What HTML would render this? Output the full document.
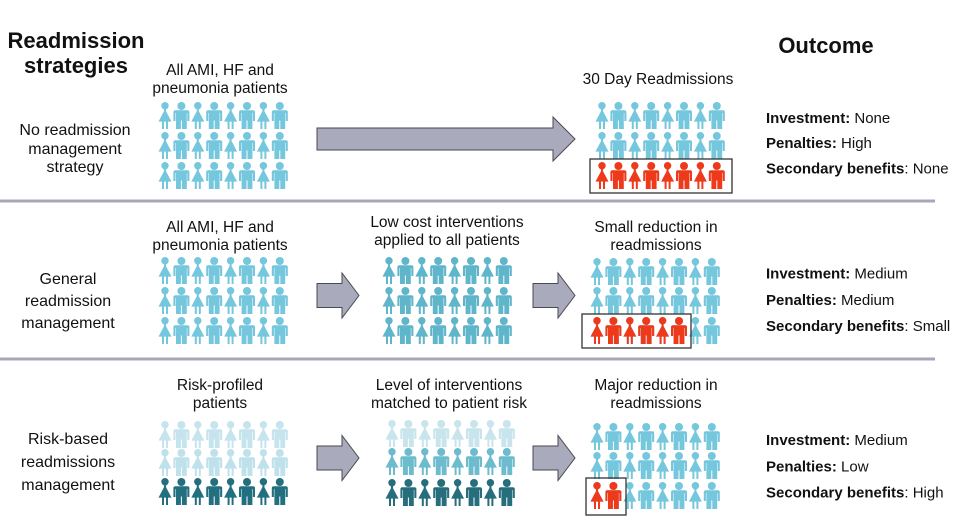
<!DOCTYPE html>
<html><head><meta charset="utf-8"><style>
html,body{margin:0;padding:0;background:#fff;}
svg{display:block;}
text{font-family:"Liberation Sans",Arial,sans-serif;fill:#111;}
</style></head><body>
<svg width="960" height="523" viewBox="0 0 960 523" xmlns="http://www.w3.org/2000/svg">
<defs>
<g id="f"><circle cx="0" cy="3.7" r="3.7"/><rect x="-1" y="6" width="2" height="3"/><polygon points="0,7.3 -6.5,19.6 6.5,19.6"/><rect x="-3" y="19" width="2" height="8"/><rect x="1" y="19" width="2" height="8"/></g>
<g id="m"><circle cx="0" cy="4" r="4"/><path d="M-8,10 Q-8,8.2 -6,8.2 L6,8.2 Q8,8.2 8,10 L8,19 L5.9,19 L5.9,11 L5.4,11 L5.4,27 L0.5,27 L0.5,18.5 L-0.5,18.5 L-0.5,27 L-5.4,27 L-5.4,11 L-5.9,11 L-5.9,19 L-8,19 Z"/></g>
<g id="row">
<use href="#f" x="0"/><use href="#m" x="16.4"/><use href="#f" x="32.8"/><use href="#m" x="49.2"/><use href="#f" x="65.6"/><use href="#m" x="82"/><use href="#f" x="98.4"/><use href="#m" x="114.8"/>
</g>
<g id="red6">
<use href="#f" x="0"/><use href="#m" x="16.4"/><use href="#f" x="32.8"/><use href="#m" x="49.2"/><use href="#f" x="65.6"/><use href="#m" x="82"/>
</g>
<g id="red2">
<use href="#f" x="0"/><use href="#m" x="16.4"/>
</g>
</defs>

<!-- separators -->
<rect x="0" y="199.5" width="935" height="3" fill="#a7a8b7"/>
<rect x="0" y="357.5" width="935" height="3" fill="#a7a8b7"/>

<!-- titles -->
<text x="76" y="48" font-size="22" font-weight="bold" text-anchor="middle">Readmission</text>
<text x="76" y="73" font-size="22" font-weight="bold" text-anchor="middle">strategies</text>
<text x="826" y="53" font-size="22" font-weight="bold" text-anchor="middle">Outcome</text>

<!-- left labels -->
<g font-size="16" text-anchor="middle">
<text x="75" y="135">No readmission</text>
<text x="75" y="154">management</text>
<text x="75" y="172">strategy</text>
<text x="68" y="284">General</text>
<text x="68" y="306">readmission</text>
<text x="68" y="328">management</text>
<text x="68" y="444">Risk-based</text>
<text x="68" y="467">readmissions</text>
<text x="68" y="490">management</text>
</g>

<!-- group labels -->
<g font-size="15.5" text-anchor="middle">
<text x="220" y="75">All AMI, HF and</text>
<text x="220" y="93">pneumonia patients</text>
<text x="658" y="84">30 Day Readmissions</text>

<text x="220" y="232">All AMI, HF and</text>
<text x="220" y="250">pneumonia patients</text>
<text x="447" y="227">Low cost interventions</text>
<text x="447" y="245">applied to all patients</text>
<text x="656" y="232">Small reduction in</text>
<text x="656" y="250">readmissions</text>

<text x="220" y="390">Risk-profiled</text>
<text x="220" y="408">patients</text>
<text x="449" y="390">Level of interventions</text>
<text x="449" y="408">matched to patient risk</text>
<text x="656" y="390">Major reduction in</text>
<text x="656" y="408">readmissions</text>
</g>

<!-- outcomes -->
<g font-size="15">
<text x="766" y="123"><tspan font-weight="bold">Investment:</tspan> None</text>
<text x="766" y="148"><tspan font-weight="bold">Penalties:</tspan> High</text>
<text x="766" y="173.5"><tspan font-weight="bold">Secondary benefits</tspan>: None</text>
<text x="766" y="278.5"><tspan font-weight="bold">Investment:</tspan> Medium</text>
<text x="766" y="305"><tspan font-weight="bold">Penalties:</tspan> Medium</text>
<text x="766" y="331"><tspan font-weight="bold">Secondary benefits</tspan>: Small</text>
<text x="766" y="445"><tspan font-weight="bold">Investment:</tspan> Medium</text>
<text x="766" y="471.5"><tspan font-weight="bold">Penalties:</tspan> Low</text>
<text x="766" y="497.5"><tspan font-weight="bold">Secondary benefits</tspan>: High</text>
</g>

<!-- arrows -->
<g fill="#a9aabb" stroke="#4a4a52" stroke-width="1">
<polygon points="317,128 553,128 553,117 575,139 553,161 553,150 317,150"/>
<polygon points="317,283.5 342,283.5 342,273 359,295.5 342,318 342,307.5 317,307.5"/>
<polygon points="533,283.5 558,283.5 558,273 575,295.5 558,318 558,307.5 533,307.5"/>
<polygon points="317,446 342,446 342,435.5 359,458 342,480.5 342,470 317,470"/>
<polygon points="533,446 558,446 558,435.5 575,458 558,480.5 558,470 533,470"/>
</g>

<!-- Row 1 groups -->
<g fill="#74c7dd">
<use href="#row" x="165" y="102"/>
<use href="#row" x="165" y="132"/>
<use href="#row" x="165" y="162"/>
<use href="#row" x="602" y="102"/>
<use href="#row" x="602" y="132"/>
</g>
<use href="#row" x="602" y="162" fill="#ee3a1b"/>
<rect x="590" y="159" width="142" height="34" fill="none" stroke="#333" stroke-width="1.3"/>

<!-- Row 2 groups -->
<g fill="#74c7dd">
<use href="#row" x="165" y="257"/>
<use href="#row" x="165" y="287"/>
<use href="#row" x="165" y="317"/>
<use href="#row" x="597" y="258"/>
<use href="#row" x="597" y="287"/>
<use href="#row" x="597" y="317"/>
</g>
<g fill="#5fb6ca">
<use href="#row" x="389" y="257"/>
<use href="#row" x="389" y="287"/>
<use href="#row" x="389" y="317"/>
</g>
<use href="#red6" x="597" y="317" fill="#ee3a1b"/>
<rect x="582" y="314" width="109" height="34" fill="none" stroke="#333" stroke-width="1.3"/>

<!-- Row 3 groups -->
<use href="#row" x="165" y="421" fill="#c6e4ed"/>
<use href="#row" x="165" y="449" fill="#bfe1eb"/>
<use href="#row" x="165" y="478" fill="#22707f"/>
<use href="#row" x="392" y="420" fill="#c8e4ec"/>
<use href="#row" x="392" y="448" fill="#6dbccd"/>
<use href="#row" x="392" y="479" fill="#276e7d"/>
<g fill="#74c7dd">
<use href="#row" x="597" y="423"/>
<use href="#row" x="597" y="452"/>
<use href="#row" x="597" y="482"/>
</g>
<use href="#red2" x="597" y="482" fill="#ee3a1b"/>
<rect x="586" y="478" width="40" height="37" fill="none" stroke="#333" stroke-width="1.3"/>
</svg>
</body></html>
